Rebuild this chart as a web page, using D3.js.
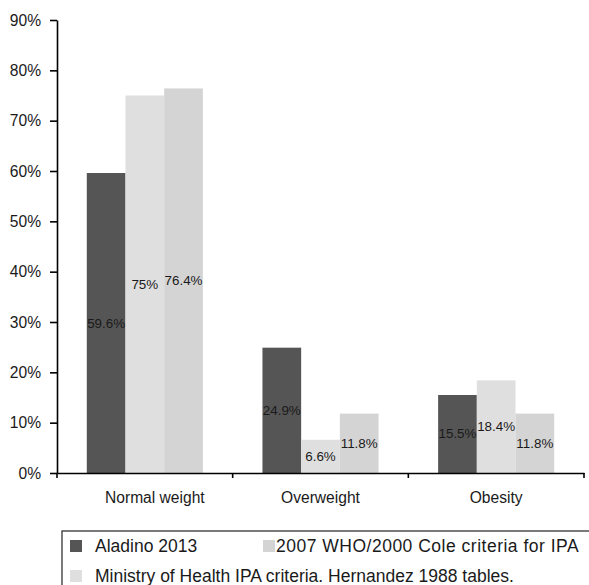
<!DOCTYPE html>
<html>
<head>
<meta charset="utf-8">
<script src="https://cdn.jsdelivr.net/npm/d3@7"></script>
<style>
  html, body { margin: 0; padding: 0; background: #fff; }
  svg { display: block; font-family: "Liberation Sans", Arial, Helvetica, sans-serif; }
</style>
</head>
<body>
<svg id="chart" width="589" height="585"></svg>
<script>
// Weight status categories and the three classification criteria
const categories = ["Normal weight", "Overweight", "Obesity"];
const seriesNames = ["Aladino 2013", "Ministry of Health IPA criteria. Hernandez 1988 tables.", "2007 WHO/2000 Cole criteria for IPA"];
const aladino = [59.6, 24.9, 15.5];
const ministry = [75, 6.6, 18.4];
const whoCole = [76.4, 11.8, 11.8];
const valueLabels = [["59.6%", "24.9%", "15.5%"], ["75%", "6.6%", "18.4%"], ["76.4%", "11.8%", "11.8%"]];
const yTicks = [0, 10, 20, 30, 40, 50, 60, 70, 80, 90];
const seriesColors = ["#555555", "#dfdfdf", "#d4d4d4"];
// Legend reading order (two columns)
const legendOrder = [0, 2, 1];

const seriesValues = [aladino, ministry, whoCole];

const svg = d3.select("#chart");
const plotLeft = 57, plotRight = 584, plotTop = 20, plotBottom = 473;

const y = d3.scaleLinear().domain([0, 90]).range([plotBottom, plotTop]);
const x0 = d3.scaleBand().domain(categories).range([plotLeft, plotRight]).paddingInner(0).paddingOuter(0);
const x1 = d3.scaleBand().domain(d3.range(seriesNames.length)).range([0, x0.bandwidth()])
  .paddingInner(0).paddingOuter(0.77);

// Bars
const rows = [];
categories.forEach((c, ci) => {
  seriesValues.forEach((vals, si) => {
    rows.push({ cat: c, si, v: vals[ci], label: valueLabels[si][ci] });
  });
});

svg.append("g").selectAll("rect").data(rows).join("rect")
  .attr("x", d => x0(d.cat) + x1(d.si))
  .attr("y", d => y(d.v))
  .attr("width", x1.bandwidth())
  .attr("height", d => y(0) - y(d.v))
  .attr("fill", d => seriesColors[d.si]);

// Value labels in the middle of each bar
svg.append("g").selectAll("text").data(rows).join("text")
  .attr("x", d => x0(d.cat) + x1(d.si) + x1.bandwidth() / 2)
  .attr("y", d => y(d.v / 2))
  .attr("text-anchor", "middle")
  .attr("dominant-baseline", "central")
  .attr("font-size", 13.4)
  .attr("fill", "#1a1a1a")
  .text(d => d.label);

// Y axis
const yAxis = svg.append("g").attr("transform", `translate(${plotLeft},0)`)
  .call(d3.axisLeft(y).tickValues(yTicks).tickSize(7).tickSizeOuter(0).tickPadding(9)
    .tickFormat(d => d + "%"));
yAxis.selectAll("text").attr("font-size", 15.6).attr("fill", "#1a1a1a");
yAxis.attr("font-family", null);
yAxis.selectAll("line, path").attr("stroke", "#000").attr("stroke-width", 1.6);

// X axis: baseline, boundary ticks and category labels
const xg = svg.append("g").attr("transform", `translate(0,${plotBottom})`);
xg.call(d3.axisBottom(x0).tickSize(0).tickSizeOuter(0).tickPadding(19));
xg.attr("font-family", null);
xg.select(".domain").attr("stroke", "#000").attr("stroke-width", 1.6);
xg.selectAll("text").attr("font-size", 15.6).attr("fill", "#1a1a1a")
  .attr("dx", (d, i) => i === 0 ? 10 : 0);
const boundaries = categories.map(c => x0(c)).concat([plotRight]);
xg.selectAll("line.bound").data(boundaries).join("line")
  .attr("class", "bound")
  .attr("x1", d => d).attr("x2", d => d)
  .attr("y1", 0).attr("y2", 5)
  .attr("stroke", "#000").attr("stroke-width", 1.6);

// Legend
const lg = svg.append("g");
lg.append("rect").attr("x", 62).attr("y", 531).attr("width", 600).attr("height", 100)
  .attr("fill", "none").attr("stroke", "#333").attr("stroke-width", 1.3);
const legendPos = [[70, 546], [263, 546], [70, 576]];
legendOrder.forEach((si, i) => {
  const [lx, ly] = legendPos[i];
  lg.append("rect").attr("x", lx).attr("y", ly - 6).attr("width", 12).attr("height", 12)
    .attr("fill", seriesColors[si]);
  lg.append("text").attr("x", lx + (i === 1 ? 13 : 25)).attr("y", ly)
    .attr("dominant-baseline", "central")
    .attr("font-size", 17.5).attr("fill", "#1a1a1a")
    .attr("letter-spacing", i === 1 ? 0.5 : 0)
    .text(seriesNames[si]);
});
</script>
</body>
</html>
